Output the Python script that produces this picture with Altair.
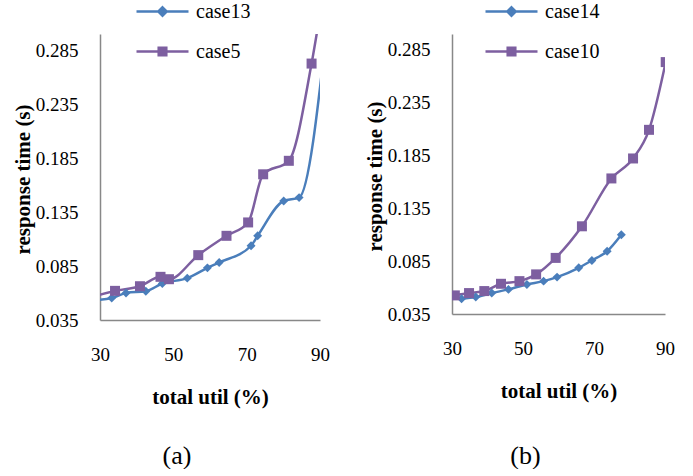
import altair as alt
import pandas as pd

# ---------- data ----------
# panel (a)
a_case13_util = [27.0, 33.2, 37.1, 42.5, 47.0, 53.8, 59.3, 62.5, 71.2, 73.0, 80.1, 84.3, 92.0]
a_case13_rt = [0.053, 0.0554, 0.0601, 0.0617, 0.0688, 0.0738, 0.0833, 0.0883, 0.1038, 0.113, 0.1453, 0.1484, 0.31]
a_case5_util = [27.5, 34.1, 40.9, 46.5, 48.8, 56.8, 64.5, 70.4, 74.5, 81.5, 87.7, 91.0]
a_case5_rt = [0.056, 0.062, 0.0663, 0.075, 0.0728, 0.0951, 0.113, 0.1254, 0.170, 0.1825, 0.2726, 0.34]
# panel (b)
b_case14_util = [32.7, 36.7, 41.2, 45.9, 51.1, 55.8, 59.6, 65.7, 69.4, 73.7, 77.7]
b_case14_rt = [0.0494, 0.051, 0.0548, 0.0583, 0.063, 0.0661, 0.0699, 0.0787, 0.0857, 0.0944, 0.110]
b_case10_util = [30.8, 34.8, 39.1, 43.8, 49.0, 53.7, 59.2, 66.6, 74.9, 81.0, 85.5, 90.2]
b_case10_rt = [0.0526, 0.0548, 0.0567, 0.0636, 0.0661, 0.0725, 0.0881, 0.118, 0.1633, 0.1822, 0.2093, 0.2734]

x_ticks = [30, 50, 70, 90]
y_ticks = [0.035, 0.085, 0.135, 0.185, 0.235, 0.285]

BLUE = "#4A7EBB"
PURPLE = "#7D5FA0"
SERIF = "Liberation Serif"

# legend symbols: a line segment with the marker in its middle (unit = sqrt(size)/2)
PATH_DIAMOND = "M-2.6,0L2.6,0M0,-0.42L0.42,0L0,0.42L-0.42,0Z"
PATH_SQUARE = "M-2.6,0L2.6,0M-0.38,-0.38L0.38,-0.38L0.38,0.38L-0.38,0.38Z"


def make_df(name1, x1, y1, name2, x2, y2):
    rows = [{"series": name1, "util": u, "rt": r} for u, r in zip(x1, y1)]
    rows += [{"series": name2, "util": u, "rt": r} for u, r in zip(x2, y2)]
    return pd.DataFrame(rows)


def panel(df, names, w, h, lx, ly, tag, tag_offset):
    xenc = alt.X(
        "util:Q",
        scale=alt.Scale(domain=[30, 90], nice=False, zero=False),
        axis=alt.Axis(
            values=x_ticks, ticks=False, grid=False, labelFlush=False,
            domainColor="#888888", domainWidth=1.5,
            labelFont=SERIF, labelFontSize=19, labelColor="black", labelPadding=25,
            title="total util (%)", titleFont=SERIF, titleFontSize=21,
            titleFontWeight="bold", titleColor="black",
            titleY=77, titleBaseline="middle",
        ),
    )
    yenc = alt.Y(
        "rt:Q",
        scale=alt.Scale(domain=[0.035, 0.30], nice=False, zero=False),
        axis=alt.Axis(
            values=y_ticks, format=".3f", ticks=False, grid=False,
            domainColor="#888888", domainWidth=1.5,
            labelFont=SERIF, labelFontSize=19, labelColor="black", labelPadding=22,
            title="response time (s)", titleFont=SERIF, titleFontSize=21,
            titleFontWeight="bold", titleColor="black",
            titleX=-77, titleY=h / 2 + 2, titleBaseline="middle",
        ),
    )
    col_scale = alt.Scale(domain=names, range=[BLUE, PURPLE])
    base = alt.Chart(df)
    layers = []
    for name, colr in zip(names, [BLUE, PURPLE]):
        sub = base.transform_filter(alt.datum.series == name)
        layers.append(sub.mark_line(interpolate="monotone", strokeWidth=2.5, clip=True,
                                    color=colr).encode(x=xenc, y=yenc))
    for name, colr, shp, sz in zip(names, [BLUE, PURPLE], ["diamond", "square"], [80, 100]):
        sub = base.transform_filter(alt.datum.series == name)
        layers.append(sub.mark_point(filled=True, opacity=1, shape=shp, size=sz, clip=True,
                                     color=colr).encode(x=xenc, y=yenc))

    legend = alt.Legend(
        orient="none", legendX=lx, legendY=ly, title=None, padding=0,
        labelFont=SERIF, labelFontSize=20, labelColor="black",
        symbolSize=400, symbolStrokeWidth=2.5, symbolOpacity=1,
        rowPadding=18, labelOffset=22,
    )
    # layer without marks that only carries the legend (line + marker symbols)
    leg = base.transform_filter("false").mark_point(
        filled=True, strokeWidth=2.5, size=400
    ).encode(
        x=xenc, y=yenc,
        fill=alt.Fill("series:N", scale=col_scale, legend=legend),
        stroke=alt.Stroke("series:N", scale=col_scale, legend=legend),
        shape=alt.Shape("series:N", scale=alt.Scale(domain=names, range=[PATH_DIAMOND, PATH_SQUARE]),
                        legend=legend),
    )
    layers.append(leg)
    return alt.layer(*layers).properties(
        width=w, height=h,
        title=alt.TitleParams(tag, orient="bottom", font=SERIF, fontSize=26,
                              fontWeight="normal", color="black", offset=tag_offset, dx=-33,
                              anchor="middle"),
    )


df_a = make_df("case13", a_case13_util, a_case13_rt, "case5", a_case5_util, a_case5_rt)
df_b = make_df("case14", b_case14_util, b_case14_rt, "case10", b_case10_util, b_case10_rt)

pa = panel(df_a, ["case13", "case5"], 220, 286, 51, -34, "(a)", 36)
pb = panel(df_b, ["case14", "case10"], 213, 280, 48, -34, "(b)", 42)

chart = (
    alt.hconcat(pa, pb, spacing=34)
    .resolve_scale(fill="independent", stroke="independent",
                   shape="independent", x="independent", y="independent")
    .resolve_legend(fill="independent", stroke="independent", shape="independent")
    .properties(padding={"left": 12, "top": 0, "right": 0, "bottom": 0}, background="white")
    .configure_view(stroke=None)
    .configure_legend(labelFont=SERIF, labelFontSize=20, labelColor="black")
)

chart.save("out.html", embed_options={"renderer": "svg", "actions": False})
